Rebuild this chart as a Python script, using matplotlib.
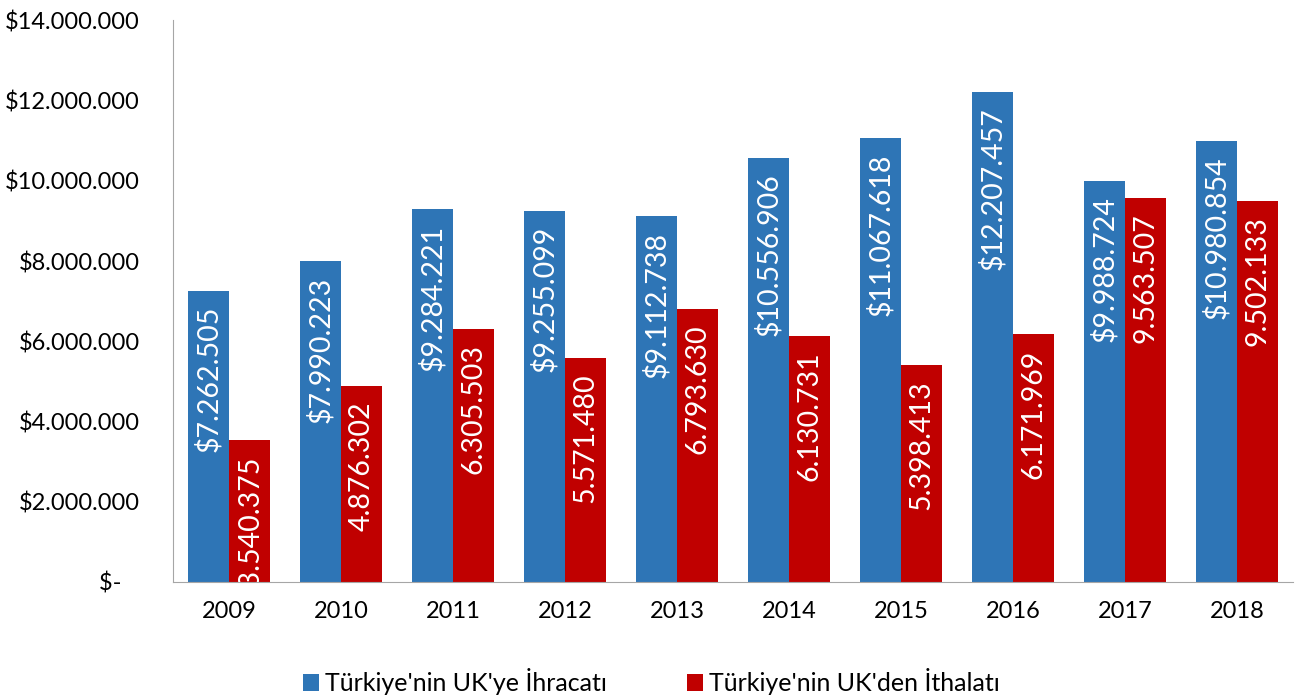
import numpy as np
import matplotlib
matplotlib.use("Agg")
import matplotlib.pyplot as plt

years = ['2009', '2010', '2011', '2012', '2013', '2014', '2015', '2016', '2017', '2018']
ihracat = [7262505, 7990223, 9284221, 9255099, 9112738, 10556906, 11067618, 12207457, 9988724, 10980854]
ithalat = [3540375, 4876302, 6305503, 5571480, 6793630, 6130731, 5398413, 6171969, 9563507, 9502133]
ihracat_lbl = ['$7.262.505', '$7.990.223', '$9.284.221', '$9.255.099', '$9.112.738',
               '$10.556.906', '$11.067.618', '$12.207.457', '$9.988.724', '$10.980.854']
ithalat_lbl = ['$3.540.375', '4.876.302', '6.305.503', '5.571.480', '6.793.630',
               '6.130.731', '5.398.413', '6.171.969', '9.563.507', '9.502.133']
yticks = [0, 2000000, 4000000, 6000000, 8000000, 10000000, 12000000, 14000000]
ytick_lbl = ['$-   ', '$2.000.000', '$4.000.000', '$6.000.000', '$8.000.000',
             '$10.000.000', '$12.000.000', '$14.000.000']

plt.rcParams['font.family'] = ['Lato', 'DejaVu Sans']

blue = '#2E75B6'
red = '#C00000'

fig = plt.figure(figsize=(12.95, 7), dpi=100)
ax = fig.add_axes([0.1336, 0.1686, 0.865, 0.8024])

x = np.arange(len(years))
w = 0.366
ax.bar(x - w/2, ihracat, w, color=blue, label="Türkiye'nin UK'ye İhracatı")
ax.bar(x + w/2, ithalat, w, color=red, label="Türkiye'nin UK'den İthalatı")

# value labels, rotated, just under the top of each bar
for xs, vals, lbls in [(x - w/2, ihracat, ihracat_lbl), (x + w/2, ithalat, ithalat_lbl)]:
    for xi, v, t in zip(xs, vals, lbls):
        ax.annotate(t, (xi, v), xytext=(0, -11), textcoords='offset points',
                    rotation=90, ha='center', va='top', color='white',
                    fontsize=20.5, annotation_clip=False, clip_on=True)

ax.set_xlim(-0.5, 9.5)
ax.set_ylim(0, 14000000)
ax.set_xticks(x)
ax.set_xticklabels(years, fontsize=17)
ax.set_yticks(yticks)
ax.set_yticklabels(ytick_lbl, fontsize=17)
ax.tick_params(length=0)
ax.tick_params(axis='x', pad=14)
ax.tick_params(axis='y', pad=24)

for s in ['top', 'right']:
    ax.spines[s].set_visible(False)
ax.spines['left'].set_color('#A6A6A6')
ax.spines['bottom'].set_color('#A6A6A6')

h, l = ax.get_legend_handles_labels()
fig.legend(h, l, loc='center', bbox_to_anchor=(0.503, 0.026), ncol=2, frameon=False,
           fontsize=18, handlelength=0.65, handleheight=0.65, handletextpad=0.25,
           columnspacing=3.2)

fig.savefig('out.png', dpi=100)
